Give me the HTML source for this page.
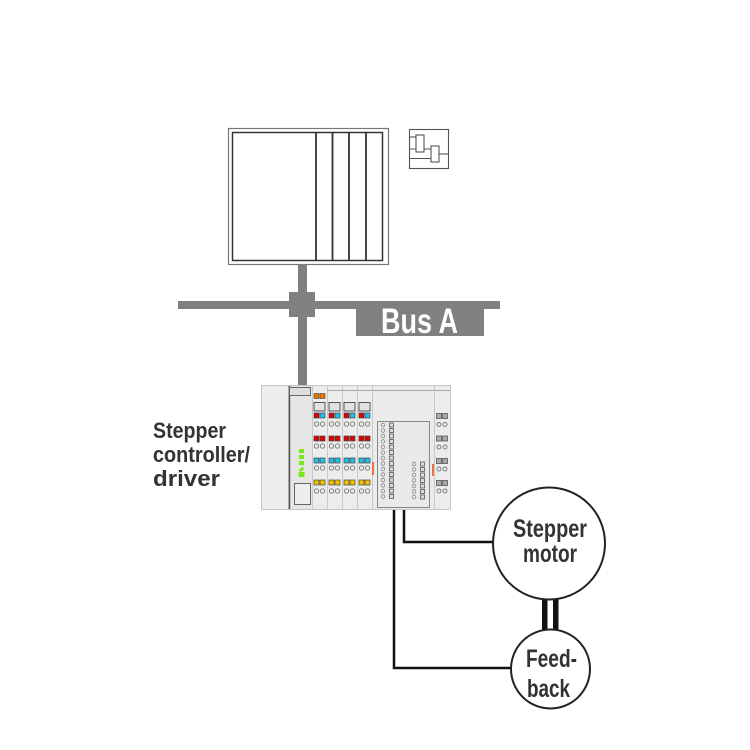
<!DOCTYPE html>
<html><head><meta charset="utf-8"><style>
html,body{margin:0;padding:0;background:#fff;}
svg{display:block;}
text{font-family:"Liberation Sans",sans-serif;}
</style></head><body>
<svg width="750" height="750" viewBox="0 0 750 750" xmlns="http://www.w3.org/2000/svg">
<rect width="750" height="750" fill="#fff"/>
<!-- top box -->
<rect x="228.5" y="128.5" width="160" height="136" fill="#fff" stroke="#777" stroke-width="1.2"/>
<rect x="232.5" y="132.5" width="150" height="128" fill="#fff" stroke="#333" stroke-width="1.5"/>
<g stroke="#333" stroke-width="1.8">
<line x1="316" y1="132" x2="316" y2="260"/>
<line x1="332.5" y1="132" x2="332.5" y2="260"/>
<line x1="349" y1="132" x2="349" y2="260"/>
<line x1="366" y1="132" x2="366" y2="260"/>
</g>
<!-- small schematic box -->
<g fill="none" stroke="#555" stroke-width="1.1">
<rect x="409.5" y="129.5" width="39" height="39"/>
<line x1="409.5" y1="137" x2="416" y2="137"/>
<line x1="409.5" y1="149" x2="431" y2="149"/>
<line x1="439" y1="154" x2="448.5" y2="154"/>
<line x1="409.5" y1="158.5" x2="431" y2="158.5"/>
<rect x="416" y="135" width="8" height="17" fill="#fff"/>
<rect x="431" y="146" width="8" height="16" fill="#fff"/>
</g>
<!-- bus -->
<g fill="#808080">
<rect x="298" y="264" width="9" height="124"/>
<rect x="178" y="301" width="322" height="8"/>
<rect x="289" y="292" width="26" height="25"/>
<rect x="356" y="305" width="128" height="31"/>
</g>
<text x="381" y="333" font-size="35" font-weight="bold" fill="#fff" textLength="77" lengthAdjust="spacingAndGlyphs">Bus A</text>
<!-- label -->
<g fill="#333" font-size="22" font-weight="bold">
<text x="153" y="438" textLength="73" lengthAdjust="spacingAndGlyphs">Stepper</text>
<text x="153" y="462" textLength="97" lengthAdjust="spacingAndGlyphs">controller/</text>
<text x="153" y="486" textLength="67" lengthAdjust="spacingAndGlyphs">driver</text>
</g>
<!-- device -->
<rect x="261.5" y="385.5" width="27" height="124" fill="#ededed" stroke="#c4c4c4"/>
<rect x="288.5" y="385.5" width="24" height="124" fill="#e6e6e6" stroke="#c4c4c4"/>
<line x1="289.5" y1="386" x2="289.5" y2="509" stroke="#555" stroke-width="1.5"/>
<rect x="289.5" y="387.5" width="21" height="8" fill="#dedede" stroke="#666"/>
<rect x="294.5" y="483.5" width="16" height="21" fill="#eee" stroke="#666"/>
<!-- wago logo -->
<g fill="#7be81a">
<rect x="299" y="449" width="5" height="4"/>
<rect x="299" y="455" width="5" height="4"/>
<rect x="299" y="461" width="5" height="4"/>
<path d="M298.5 470 l4 -3 l2 2 l-4 3 z"/>
<rect x="298.5" y="472" width="6" height="5"/>
</g>
<!-- IO modules -->
<g id="mods">
<rect x="312.5" y="385.5" width="15" height="124" fill="#ececec" stroke="#c8c8c8"/>
<rect x="327.5" y="385.5" width="15" height="124" fill="#ececec" stroke="#c8c8c8"/>
<rect x="342.5" y="385.5" width="15" height="124" fill="#ececec" stroke="#c8c8c8"/>
<rect x="357.5" y="385.5" width="15" height="124" fill="#ececec" stroke="#c8c8c8"/>
<rect x="372.5" y="385.5" width="62" height="124" fill="#ebebeb" stroke="#c8c8c8"/>
<rect x="434.5" y="385.5" width="16" height="124" fill="#ececec" stroke="#c8c8c8"/>
<line x1="327" y1="390.5" x2="450" y2="390.5" stroke="#aaa"/>
</g>
<!-- orange pair module 1 -->
<rect x="314" y="393.5" width="5" height="5" fill="#f07000" stroke="#444" stroke-width="0.6"/>
<rect x="320" y="393.5" width="5" height="5" fill="#f07000" stroke="#444" stroke-width="0.6"/>
<g stroke="#444" stroke-width="0.7">
<g id="m1" transform="translate(312,0)">
<rect x="2" y="402.5" width="11" height="8.5" fill="#e2e2e2" stroke="#555" stroke-width="1"/>
<rect x="2" y="413" width="5" height="5" fill="#e00000"/><rect x="8" y="413" width="5" height="5" fill="#20c0ea"/>
<rect x="2" y="436" width="5" height="5" fill="#e00000"/><rect x="8" y="436" width="5" height="5" fill="#e00000"/>
<rect x="2" y="458" width="5" height="5" fill="#20c0ea"/><rect x="8" y="458" width="5" height="5" fill="#20c0ea"/>
<rect x="2" y="480" width="5" height="5" fill="#f5c000"/><rect x="8" y="480" width="5" height="5" fill="#f5c000"/>
<g fill="none" stroke="#777" stroke-width="0.9">
<circle cx="4.5" cy="424" r="2.2"/><circle cx="10.5" cy="424" r="2.2"/>
<circle cx="4.5" cy="446" r="2.2"/><circle cx="10.5" cy="446" r="2.2"/>
<circle cx="4.5" cy="468" r="2.2"/><circle cx="10.5" cy="468" r="2.2"/>
<circle cx="4.5" cy="491" r="2.2"/><circle cx="10.5" cy="491" r="2.2"/>
</g>
</g>
<use href="#m1" transform="translate(15,0)"/>
<use href="#m1" transform="translate(30,0)"/>
<use href="#m1" transform="translate(45,0)"/>
</g>
<!-- big module inner -->
<rect x="377.5" y="421.5" width="52" height="86" fill="#e9e9e9" stroke="#888"/>
<g fill="none" stroke="#888" stroke-width="0.8">
<circle cx="383" cy="425" r="1.8"/><circle cx="383" cy="430.5" r="1.8"/><circle cx="383" cy="436" r="1.8"/><circle cx="383" cy="441.5" r="1.8"/><circle cx="383" cy="447" r="1.8"/><circle cx="383" cy="452.5" r="1.8"/><circle cx="383" cy="458" r="1.8"/><circle cx="383" cy="463.5" r="1.8"/><circle cx="383" cy="469" r="1.8"/><circle cx="383" cy="474.5" r="1.8"/><circle cx="383" cy="480" r="1.8"/><circle cx="383" cy="485.5" r="1.8"/><circle cx="383" cy="491" r="1.8"/><circle cx="383" cy="496.5" r="1.8"/>
<circle cx="414" cy="464" r="1.8"/><circle cx="414" cy="469.5" r="1.8"/><circle cx="414" cy="475" r="1.8"/><circle cx="414" cy="480.5" r="1.8"/><circle cx="414" cy="486" r="1.8"/><circle cx="414" cy="491.5" r="1.8"/><circle cx="414" cy="497" r="1.8"/>
</g>
<g fill="#ddd" stroke="#555" stroke-width="0.8">
<rect x="389.5" y="423" width="4" height="4"/><rect x="389.5" y="428.5" width="4" height="4"/><rect x="389.5" y="434" width="4" height="4"/><rect x="389.5" y="439.5" width="4" height="4"/><rect x="389.5" y="445" width="4" height="4"/><rect x="389.5" y="450.5" width="4" height="4"/><rect x="389.5" y="456" width="4" height="4"/><rect x="389.5" y="461.5" width="4" height="4"/><rect x="389.5" y="467" width="4" height="4"/><rect x="389.5" y="472.5" width="4" height="4"/><rect x="389.5" y="478" width="4" height="4"/><rect x="389.5" y="483.5" width="4" height="4"/><rect x="389.5" y="489" width="4" height="4"/><rect x="389.5" y="494.5" width="4" height="4"/>
<rect x="420.5" y="462" width="4" height="4"/><rect x="420.5" y="467.5" width="4" height="4"/><rect x="420.5" y="473" width="4" height="4"/><rect x="420.5" y="478.5" width="4" height="4"/><rect x="420.5" y="484" width="4" height="4"/><rect x="420.5" y="489.5" width="4" height="4"/><rect x="420.5" y="495" width="4" height="4"/>
</g>
<!-- orange marks -->
<rect x="372" y="462" width="2" height="13" fill="#f07040"/>
<rect x="432" y="464" width="2" height="12" fill="#f07040"/>
<!-- right module -->
<g fill="#aaa" stroke="#555" stroke-width="0.8">
<rect x="436.5" y="413.5" width="5" height="5"/><rect x="442.5" y="413.5" width="5" height="5"/>
<rect x="436.5" y="436" width="5" height="5"/><rect x="442.5" y="436" width="5" height="5"/>
<rect x="436.5" y="458.5" width="5" height="5"/><rect x="442.5" y="458.5" width="5" height="5"/>
<rect x="436.5" y="480.5" width="5" height="5"/><rect x="442.5" y="480.5" width="5" height="5"/>
</g>
<g fill="none" stroke="#777" stroke-width="0.9">
<circle cx="439" cy="424.5" r="2"/><circle cx="445" cy="424.5" r="2"/>
<circle cx="439" cy="447" r="2"/><circle cx="445" cy="447" r="2"/>
<circle cx="439" cy="469" r="2"/><circle cx="445" cy="469" r="2"/>
<circle cx="439" cy="491" r="2"/><circle cx="445" cy="491" r="2"/>
</g>
<!-- wires -->
<g fill="none" stroke="#111" stroke-width="2.5">
<polyline points="394,510 394,668 511,668"/>
<polyline points="404,510 404,542 493,542"/>
</g>
<!-- shaft -->
<rect x="542" y="598" width="5.5" height="34" fill="#111"/>
<rect x="553" y="598" width="5.5" height="34" fill="#111"/>
<!-- circles -->
<circle cx="549" cy="543.5" r="56" fill="#fff" stroke="#222" stroke-width="2"/>
<circle cx="550.5" cy="669" r="39.5" fill="#fff" stroke="#222" stroke-width="2"/>
<g fill="#333" font-size="25" font-weight="bold">
<text x="513" y="537" textLength="74" lengthAdjust="spacingAndGlyphs">Stepper</text>
<text x="523" y="562" textLength="54" lengthAdjust="spacingAndGlyphs">motor</text>
<text x="526" y="667" textLength="51" lengthAdjust="spacingAndGlyphs">Feed-</text>
<text x="527" y="697" textLength="43" lengthAdjust="spacingAndGlyphs">back</text>
</g>
</svg>
</body></html>
